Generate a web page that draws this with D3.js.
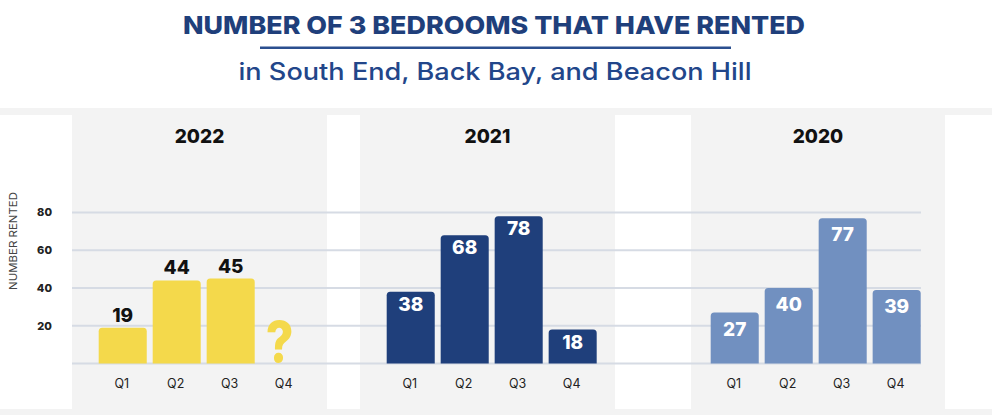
<!doctype html>
<html>
<head>
<script type='text/javascript' src='https://d3js.org/d3.v7.min.js'></script>
<style>
body { margin:0; background:#fff; }
text { font-family: Inter, "Open Sans", sans-serif; }
</style>
</head>
<body>
<script>
var width = 992, height = 418;

// data
var years = ['2022', '2021', '2020'];
var quarters = ['Q1', 'Q2', 'Q3', 'Q4'];
var rented2022 = [19, 44, 45, null]; // Q4 not known yet -> "?"
var rented2021 = [38, 68, 78, 18];
var rented2020 = [27, 40, 77, 39];
var yTicks = [20, 40, 60, 80];
var series = [rented2022, rented2021, rented2020];

// layout for each year panel
var panels = [
  {x0: 72,  x1: 327, b0: 98.7,  b1: 308.7, fill: '#f4d94b', label: 'above'},
  {x0: 360, x1: 615, b0: 386.7, b1: 596.7, fill: '#1f3f7b', label: 'inside', off: 19},
  {x0: 691, x1: 945, b0: 710.7, b1: 920.7, fill: '#7190c0', label: 'inside', off: 23}
];

var svg = d3.select('body').append('svg').attr('width', width).attr('height', height);

// titles
var navy = '#1f3f7b';
svg.append('text').attr('x', 494).attr('y', 33.5).attr('text-anchor', 'middle')
  .attr('font-size', 25).attr('font-weight', 800).attr('fill', navy)
  .attr('textLength', 622).attr('lengthAdjust', 'spacingAndGlyphs')
  .text('NUMBER OF 3 BEDROOMS THAT HAVE RENTED');
svg.append('rect').attr('x', 260).attr('y', 46.5).attr('width', 471).attr('height', 2.5).attr('fill', '#2b4f8f');
svg.append('text').attr('x', 495).attr('y', 79.5).attr('text-anchor', 'middle')
  .attr('font-size', 24).attr('font-weight', 500).attr('fill', '#22468a')
  .attr('textLength', 513).attr('lengthAdjust', 'spacingAndGlyphs')
  .text('in South End, Back Bay, and Beacon Hill');

// background band + white gaps
svg.append('rect').attr('x', 0).attr('y', 108).attr('width', width).attr('height', 307).attr('fill', '#f3f3f3');
var gaps = [[0, 72], [327, 360], [615, 691], [945, 992]];
svg.selectAll('rect.gap').data(gaps).join('rect').attr('class', 'gap')
  .attr('x', function(d){ return d[0]; }).attr('y', 115)
  .attr('width', function(d){ return d[1] - d[0]; }).attr('height', 294)
  .attr('fill', '#fff');

var y = d3.scaleLinear().domain([0, 80]).range([363.5, 212.5]);

// gridlines
svg.append('g').selectAll('line').data([0].concat(yTicks)).join('line')
  .attr('x1', 72).attr('x2', 921)
  .attr('y1', function(d){ return y(d); }).attr('y2', function(d){ return y(d); })
  .attr('stroke', '#d6dbe4').attr('stroke-width', 2.2);

// y tick labels
svg.append('g').selectAll('text').data(yTicks).join('text')
  .attr('x', 52).attr('y', function(d){ return y(d); }).attr('dy', '0.36em')
  .attr('text-anchor', 'end').attr('font-size', 11).attr('font-weight', 800).attr('fill', '#222')
  .text(function(d){ return d; });

svg.append('text').attr('transform', 'translate(17,241) rotate(-90)')
  .attr('text-anchor', 'middle').attr('font-size', 11).attr('fill', '#444')
  .attr('textLength', 98).attr('lengthAdjust', 'spacingAndGlyphs')
  .text('NUMBER RENTED');

function topRounded(x, yTop, w, h, r) {
  return 'M' + x + ',' + (yTop + h) + 'V' + (yTop + r) +
    'Q' + x + ',' + yTop + ' ' + (x + r) + ',' + yTop +
    'H' + (x + w - r) + 'Q' + (x + w) + ',' + yTop + ' ' + (x + w) + ',' + (yTop + r) +
    'V' + (yTop + h) + 'Z';
}

panels.forEach(function(p, i) {
  var g = svg.append('g');
  var vals = series[i];
  var x = d3.scaleBand().domain(quarters).range([p.b0, p.b1]).paddingInner(0.11).paddingOuter(0);
  var rows = quarters.map(function(q, j){ return {q: q, v: vals[j]}; });

  g.append('text').attr('x', (p.x0 + p.x1) / 2).attr('y', 142.5).attr('text-anchor', 'middle')
    .attr('font-size', 19).attr('font-weight', 800).attr('fill', '#111').text(years[i]);

  var known = rows.filter(function(d){ return d.v != null; });
  g.selectAll('path').data(known).join('path')
    .attr('d', function(d){
      return topRounded(x(d.q), y(d.v), x.bandwidth(), y(0) - y(d.v), 3.5);
    })
    .attr('fill', p.fill);

  g.selectAll('text.val').data(known).join('text').attr('class', 'val')
    .attr('x', function(d){ return x(d.q) + x.bandwidth() / 2; })
    .attr('y', function(d){ return p.label == 'above' ? y(d.v) - 6 : y(d.v) + p.off; })
    .attr('text-anchor', 'middle').attr('font-size', 19).attr('font-weight', 800)
    .attr('fill', p.label == 'above' ? '#111' : '#fff')
    .text(function(d){ return d.v; });

  // missing quarter -> big question mark
  g.selectAll('text.miss').data(rows.filter(function(d){ return d.v == null; })).join('text')
    .attr('class', 'miss')
    .attr('transform', function(d){
      return 'translate(' + (x(d.q) + x.bandwidth() / 2 - 5) + ',' + (y(0) - 1.5) + ') scale(1.2,1.42)';
    })
    .attr('text-anchor', 'middle').attr('font-size', 40).attr('font-weight', 800)
    .attr('fill', p.fill).text('?');

  g.selectAll('text.q').data(quarters).join('text').attr('class', 'q')
    .attr('x', function(d){ return x(d) + x.bandwidth() / 2 - 1; })
    .attr('y', 387.5)
    .attr('text-anchor', 'middle').attr('font-size', 12.5).attr('fill', '#222')
    .text(function(d){ return d; });
});
</script>
</body>
</html>
